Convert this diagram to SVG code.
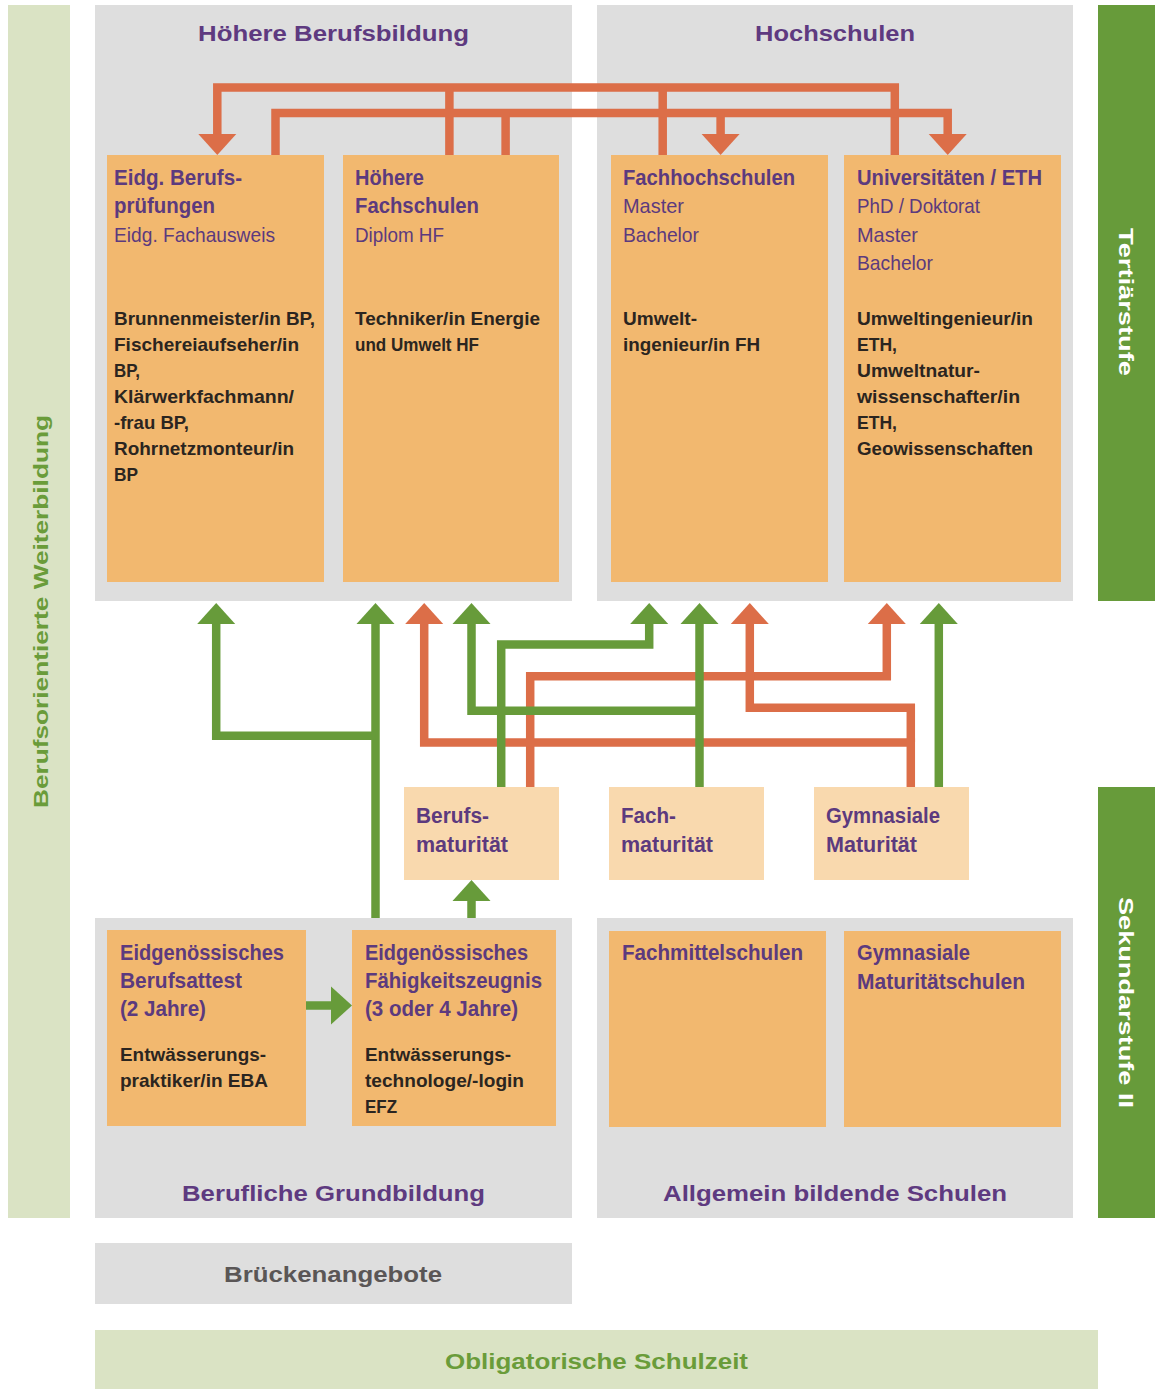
<svg xmlns="http://www.w3.org/2000/svg" width="1155" height="1389" viewBox="0 0 1155 1389">
<defs>
<style>
.panel{fill:#dedede}
.box{fill:#f2b86f}
.mat{fill:#f9d9ae}
.strip{fill:#dae3c4}
.gstrip{fill:#679b3a}
text{font-family:"Liberation Sans",Arial,sans-serif}
.ttl{font-size:22px;font-weight:bold;fill:#5e3a80}
.bt{font-size:22px;font-weight:bold;fill:#5c3a7e}
.rt{font-size:21px;fill:#5c3a7e}
.body{font-size:19px;font-weight:bold;fill:#2b2520}
.vt{font-size:21px;font-weight:bold}
.oc{fill:none;stroke:#dc6e48;stroke-width:8.5;stroke-linejoin:miter}
.gc{fill:none;stroke:#679b3a;stroke-width:8.5;stroke-linejoin:miter}
.oa{fill:#dc6e48}
.ga{fill:#679b3a}
</style>
</defs>
<rect width="1155" height="1389" fill="#ffffff"/>

<g id="strip-weiterbildung">
<rect class="strip" x="8" y="5" width="62" height="1213"/>
<text class="vt" fill="#6a9c3a" transform="translate(48,611.5) rotate(-90)" x="0" y="0" text-anchor="middle" textLength="393" lengthAdjust="spacingAndGlyphs">Berufsorientierte Weiterbildung</text>
</g>

<g id="panel-hoehere-berufsbildung">
<rect class="panel" x="95" y="5" width="477" height="596"/>
<text class="ttl" x="198" y="41" textLength="271" lengthAdjust="spacingAndGlyphs">Höhere Berufsbildung</text>
</g>
<g id="panel-hochschulen">
<rect class="panel" x="597" y="5" width="476" height="596"/>
<text class="ttl" x="755" y="41" textLength="160" lengthAdjust="spacingAndGlyphs">Hochschulen</text>
</g>

<g id="strip-tertiaerstufe">
<rect class="gstrip" x="1098" y="5" width="57" height="596"/>
<text class="vt" fill="#ffffff" transform="translate(1119,302) rotate(90)" x="0" y="0" text-anchor="middle" textLength="148" lengthAdjust="spacingAndGlyphs">Tertiärstufe</text>
</g>
<g id="strip-sekundarstufe">
<rect class="gstrip" x="1098" y="787" width="57" height="431"/>
<text class="vt" fill="#ffffff" transform="translate(1119,1002.5) rotate(90)" x="0" y="0" text-anchor="middle" textLength="211" lengthAdjust="spacingAndGlyphs">Sekundarstufe II</text>
</g>

<g id="node-berufspruefungen">
<rect class="box" x="107" y="155" width="217" height="427"/>
<text class="bt" x="114" y="185" textLength="128" lengthAdjust="spacingAndGlyphs">Eidg. Berufs-</text>
<text class="bt" x="114" y="213" textLength="101" lengthAdjust="spacingAndGlyphs">prüfungen</text>
<text class="rt" x="114" y="242" textLength="161" lengthAdjust="spacingAndGlyphs">Eidg. Fachausweis</text>
<text class="body" x="114" y="325" textLength="201" lengthAdjust="spacingAndGlyphs">Brunnenmeister/in BP,</text>
<text class="body" x="114" y="351" textLength="185" lengthAdjust="spacingAndGlyphs">Fischereiaufseher/in</text>
<text class="body" x="114" y="377" textLength="26" lengthAdjust="spacingAndGlyphs">BP,</text>
<text class="body" x="114" y="403" textLength="180" lengthAdjust="spacingAndGlyphs">Klärwerkfachmann/</text>
<text class="body" x="114" y="429" textLength="75" lengthAdjust="spacingAndGlyphs">-frau BP,</text>
<text class="body" x="114" y="455" textLength="180" lengthAdjust="spacingAndGlyphs">Rohrnetzmonteur/in</text>
<text class="body" x="114" y="481" textLength="24" lengthAdjust="spacingAndGlyphs">BP</text>
</g>

<g id="node-hoehere-fachschulen">
<rect class="box" x="343" y="155" width="216" height="427"/>
<text class="bt" x="355" y="185" textLength="69" lengthAdjust="spacingAndGlyphs">Höhere</text>
<text class="bt" x="355" y="213" textLength="124" lengthAdjust="spacingAndGlyphs">Fachschulen</text>
<text class="rt" x="355" y="242" textLength="89" lengthAdjust="spacingAndGlyphs">Diplom HF</text>
<text class="body" x="355" y="325" textLength="185" lengthAdjust="spacingAndGlyphs">Techniker/in Energie</text>
<text class="body" x="355" y="351" textLength="124" lengthAdjust="spacingAndGlyphs">und Umwelt HF</text>
</g>

<g id="node-fachhochschulen">
<rect class="box" x="611" y="155" width="217" height="427"/>
<text class="bt" x="623" y="185" textLength="172" lengthAdjust="spacingAndGlyphs">Fachhochschulen</text>
<text class="rt" x="623" y="213" textLength="61" lengthAdjust="spacingAndGlyphs">Master</text>
<text class="rt" x="623" y="242" textLength="76" lengthAdjust="spacingAndGlyphs">Bachelor</text>
<text class="body" x="623" y="325" textLength="74" lengthAdjust="spacingAndGlyphs">Umwelt-</text>
<text class="body" x="623" y="351" textLength="137" lengthAdjust="spacingAndGlyphs">ingenieur/in FH</text>
</g>

<g id="node-universitaeten">
<rect class="box" x="844" y="155" width="217" height="427"/>
<text class="bt" x="857" y="185" textLength="185" lengthAdjust="spacingAndGlyphs">Universitäten / ETH</text>
<text class="rt" x="857" y="213" textLength="123" lengthAdjust="spacingAndGlyphs">PhD / Doktorat</text>
<text class="rt" x="857" y="242" textLength="61" lengthAdjust="spacingAndGlyphs">Master</text>
<text class="rt" x="857" y="270" textLength="76" lengthAdjust="spacingAndGlyphs">Bachelor</text>
<text class="body" x="857" y="325" textLength="176" lengthAdjust="spacingAndGlyphs">Umweltingenieur/in</text>
<text class="body" x="857" y="351" textLength="40" lengthAdjust="spacingAndGlyphs">ETH,</text>
<text class="body" x="857" y="377" textLength="123" lengthAdjust="spacingAndGlyphs">Umweltnatur-</text>
<text class="body" x="857" y="403" textLength="163" lengthAdjust="spacingAndGlyphs">wissenschafter/in</text>
<text class="body" x="857" y="429" textLength="40" lengthAdjust="spacingAndGlyphs">ETH,</text>
<text class="body" x="857" y="455" textLength="176" lengthAdjust="spacingAndGlyphs">Geowissenschaften</text>
</g>

<g id="node-berufsmaturitaet">
<rect class="mat" x="404" y="787" width="155" height="93"/>
<text class="bt" x="416" y="823" textLength="73" lengthAdjust="spacingAndGlyphs">Berufs-</text>
<text class="bt" x="416" y="852" textLength="92" lengthAdjust="spacingAndGlyphs">maturität</text>
</g>
<g id="node-fachmaturitaet">
<rect class="mat" x="609" y="787" width="155" height="93"/>
<text class="bt" x="621" y="823" textLength="55" lengthAdjust="spacingAndGlyphs">Fach-</text>
<text class="bt" x="621" y="852" textLength="92" lengthAdjust="spacingAndGlyphs">maturität</text>
</g>
<g id="node-gymnasiale-maturitaet">
<rect class="mat" x="814" y="787" width="155" height="93"/>
<text class="bt" x="826" y="823" textLength="114" lengthAdjust="spacingAndGlyphs">Gymnasiale</text>
<text class="bt" x="826" y="852" textLength="91" lengthAdjust="spacingAndGlyphs">Maturität</text>
</g>

<g id="panel-berufliche-grundbildung">
<rect class="panel" x="95" y="918" width="477" height="300"/>
<text class="ttl" x="182" y="1201" textLength="303" lengthAdjust="spacingAndGlyphs">Berufliche Grundbildung</text>
</g>
<g id="panel-allgemein-bildende-schulen">
<rect class="panel" x="597" y="918" width="476" height="300"/>
<text class="ttl" x="663" y="1201" textLength="344" lengthAdjust="spacingAndGlyphs">Allgemein bildende Schulen</text>
</g>

<g id="node-berufsattest">
<rect class="box" x="107" y="930" width="199" height="196"/>
<text class="bt" x="120" y="960" textLength="164" lengthAdjust="spacingAndGlyphs">Eidgenössisches</text>
<text class="bt" x="120" y="988" textLength="122" lengthAdjust="spacingAndGlyphs">Berufsattest</text>
<text class="bt" x="120" y="1016" textLength="86" lengthAdjust="spacingAndGlyphs">(2 Jahre)</text>
<text class="body" x="120" y="1061" textLength="146" lengthAdjust="spacingAndGlyphs">Entwässerungs-</text>
<text class="body" x="120" y="1087" textLength="148" lengthAdjust="spacingAndGlyphs">praktiker/in EBA</text>
</g>
<g id="node-faehigkeitszeugnis">
<rect class="box" x="352" y="930" width="204" height="196"/>
<text class="bt" x="365" y="960" textLength="163" lengthAdjust="spacingAndGlyphs">Eidgenössisches</text>
<text class="bt" x="365" y="988" textLength="177" lengthAdjust="spacingAndGlyphs">Fähigkeitszeugnis</text>
<text class="bt" x="365" y="1016" textLength="153" lengthAdjust="spacingAndGlyphs">(3 oder 4 Jahre)</text>
<text class="body" x="365" y="1061" textLength="146" lengthAdjust="spacingAndGlyphs">Entwässerungs-</text>
<text class="body" x="365" y="1087" textLength="159" lengthAdjust="spacingAndGlyphs">technologe/-login</text>
<text class="body" x="365" y="1113" textLength="32" lengthAdjust="spacingAndGlyphs">EFZ</text>
</g>
<g id="node-fachmittelschulen">
<rect class="box" x="609" y="931" width="217" height="196"/>
<text class="bt" x="622" y="960" textLength="181" lengthAdjust="spacingAndGlyphs">Fachmittelschulen</text>
</g>
<g id="node-gymnasiale-maturitaetschulen">
<rect class="box" x="844" y="931" width="217" height="196"/>
<text class="bt" x="857" y="960" textLength="113" lengthAdjust="spacingAndGlyphs">Gymnasiale</text>
<text class="bt" x="857" y="989" textLength="168" lengthAdjust="spacingAndGlyphs">Maturitätschulen</text>
</g>

<g id="node-brueckenangebote">
<rect class="panel" x="95" y="1243" width="477" height="61"/>
<text class="ttl" style="fill:#5a5656" x="224" y="1282" textLength="218" lengthAdjust="spacingAndGlyphs">Brückenangebote</text>
</g>
<g id="node-obligatorische-schulzeit">
<rect class="strip" x="95" y="1330" width="1003" height="59"/>
<text class="ttl" style="fill:#6a9c3a" x="445" y="1369" textLength="303" lengthAdjust="spacingAndGlyphs">Obligatorische Schulzeit</text>
</g>

<g id="connectors">
<path class="oc" d="M217.3,134 V87.5 H894.8 V155"/>
<path class="oc" d="M449.4,87.5 V155 M662.7,87.5 V155"/>
<path class="oc" d="M275.5,155 V113 H947.7 V134"/>
<path class="oc" d="M505.6,113 V155 M720.6,113 V134"/>
<polygon class="oa" points="198.3,134 236.3,134 217.3,155"/>
<polygon class="oa" points="701.6,134 739.6,134 720.6,155"/>
<polygon class="oa" points="928.7,134 966.7,134 947.7,155"/>

<path class="oc" d="M530.2,787 V676.2 H886.8 V624"/>
<path class="oc" d="M910.8,787 V742.5 H424.2 V624"/>
<path class="oc" d="M910.8,742.5 V707.8 H749.8 V624"/>
<polygon class="oa" points="867.8,624 905.8,624 886.8,603"/>
<polygon class="oa" points="405.2,624 443.2,624 424.2,603"/>
<polygon class="oa" points="730.8,624 768.8,624 749.8,603"/>

<path class="gc" d="M375.5,918 V624"/>
<path class="gc" d="M375.5,735.8 H216.2 V624"/>
<path class="gc" d="M501.2,787 V644.5 H649.2 V624"/>
<path class="gc" d="M699.5,787 V624"/>
<path class="gc" d="M699.5,710.8 H471.5 V624"/>
<path class="gc" d="M938.8,787 V624"/>
<polygon class="ga" points="356.5,624 394.5,624 375.5,603"/>
<polygon class="ga" points="197.2,624 235.2,624 216.2,603"/>
<polygon class="ga" points="630.2,624 668.2,624 649.2,603"/>
<polygon class="ga" points="680.5,624 718.5,624 699.5,603"/>
<polygon class="ga" points="452.5,624 490.5,624 471.5,603"/>
<polygon class="ga" points="919.8,624 957.8,624 938.8,603"/>

<path class="gc" d="M471.5,918 V900"/>
<polygon class="ga" points="452.5,901 490.5,901 471.5,880"/>
<path class="gc" d="M306,1005.5 H332"/>
<polygon class="ga" points="331,986.5 331,1024.5 352,1005.5"/>
</g>
</svg>
